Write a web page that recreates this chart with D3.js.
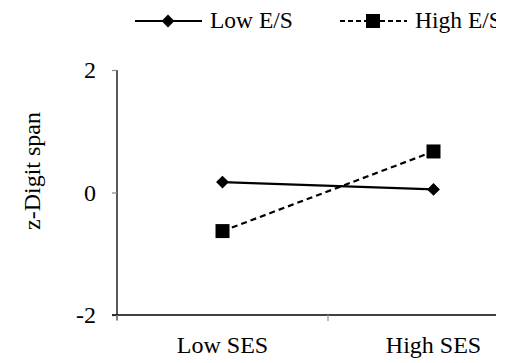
<!DOCTYPE html>
<html>
<head>
<meta charset="utf-8">
<script src="https://cdn.jsdelivr.net/npm/d3@7"></script>
<style>
  body { margin: 0; background: #fff; }
  svg text { font-family: "Liberation Serif", "Times New Roman", serif; fill: #000; }
</style>
</head>
<body>
<div id="chart"></div>
<script>
// data
let categories = ["Low SES", "High SES"];
let seriesNames = ["Low E/S", "High E/S"];
let lowES = [0.17, 0.05];
let highES = [-0.63, 0.67];
let yTicks = [-2, 0, 2];

let W = 506, H = 363;
let margin = {top: 70, right: 0, bottom: 48, left: 117};
let height = H - margin.top - margin.bottom;
let fontSize = 24;
let clipX = 496;

let svg = d3.select("#chart").append("svg")
  .attr("width", W)
  .attr("height", H);

svg.append("defs").append("clipPath")
  .attr("id", "clip")
  .append("rect")
  .attr("width", clipX)
  .attr("height", H);

let g = svg.append("g")
  .attr("transform", "translate(" + margin.left + "," + margin.top + ")");

let x = d3.scaleBand().domain(categories).range([0, 422]);
let y = d3.scaleLinear().domain([-2, 2]).range([height, 0]);

// y axis
let yAxis = g.append("g").call(d3.axisLeft(y).tickValues(yTicks).tickSize(5).tickFormat(function(d) { return String(d); }));
yAxis.select(".domain").attr("stroke", "#000").attr("stroke-width", 1.3).attr("d", "M0,0V" + (height + 5));
yAxis.selectAll(".tick line").attr("stroke", "#888").attr("stroke-width", 1.2);
yAxis.selectAll(".tick text").attr("x", -21).attr("font-size", fontSize).attr("font-family", null);

// x axis
let xAxis = g.append("g")
  .attr("transform", "translate(0," + height + ")")
  .call(d3.axisBottom(x).tickSize(0));
xAxis.select(".domain").attr("stroke", "#000").attr("stroke-width", 1.3).attr("d", "M-5,0H" + (clipX - margin.left));
xAxis.selectAll(".tick text").attr("y", 38).attr("dy", null).attr("font-size", fontSize).attr("font-family", null);
// boundary ticks between categories
g.append("g").selectAll("line")
  .data([0, x.step()])
  .enter().append("line")
  .attr("x1", function(d) { return d; })
  .attr("x2", function(d) { return d; })
  .attr("y1", height)
  .attr("y2", height + 6)
  .attr("stroke", "#999")
  .attr("stroke-width", 1.3);

// y label
svg.append("text")
  .attr("transform", "translate(40,171) rotate(-90)")
  .attr("text-anchor", "middle")
  .attr("font-size", fontSize)
  .text("z-Digit span");

let cx = function(d, i) { return x(categories[i]) + x.bandwidth() / 2; };
let line = d3.line().x(cx).y(function(d) { return y(d); });

g.append("path").datum(lowES)
  .attr("d", line).attr("fill", "none").attr("stroke", "#000").attr("stroke-width", 2.2);
g.append("path").datum(highES)
  .attr("d", line).attr("fill", "none").attr("stroke", "#000").attr("stroke-width", 2.2)
  .attr("stroke-dasharray", "6,4");

let diamond = d3.symbol().type(d3.symbolDiamond2).size(105);
let square = d3.symbol().type(d3.symbolSquare).size(196);

g.selectAll(".dia").data(lowES).enter().append("path")
  .attr("class", "dia")
  .attr("d", diamond)
  .attr("transform", function(d, i) { return "translate(" + cx(d, i) + "," + y(d) + ")"; })
  .attr("fill", "#000");
g.selectAll(".sq").data(highES).enter().append("path")
  .attr("class", "sq")
  .attr("d", square)
  .attr("transform", function(d, i) { return "translate(" + cx(d, i) + "," + y(d) + ")"; })
  .attr("fill", "#000");

// legend (clipped at the right edge like the source image)
let legend = svg.append("g").attr("clip-path", "url(#clip)")
  .append("g").attr("transform", "translate(0,28)");
let items = [
  {name: seriesNames[0], x0: 135, dash: null, sym: diamond},
  {name: seriesNames[1], x0: 340, dash: "5,3", sym: square}
];
items.forEach(function(it) {
  legend.append("line")
    .attr("x1", it.x0).attr("x2", it.x0 + 67)
    .attr("y1", -7).attr("y2", -7)
    .attr("stroke", "#000").attr("stroke-width", 2.2)
    .attr("stroke-dasharray", it.dash);
  legend.append("path")
    .attr("d", it.sym)
    .attr("transform", "translate(" + (it.x0 + 33) + ",-7)")
    .attr("fill", "#000");
  legend.append("text")
    .attr("x", it.x0 + 75)
    .attr("y", 0)
    .attr("font-size", 23.5)
    .text(it.name);
});
</script>
</body>
</html>
